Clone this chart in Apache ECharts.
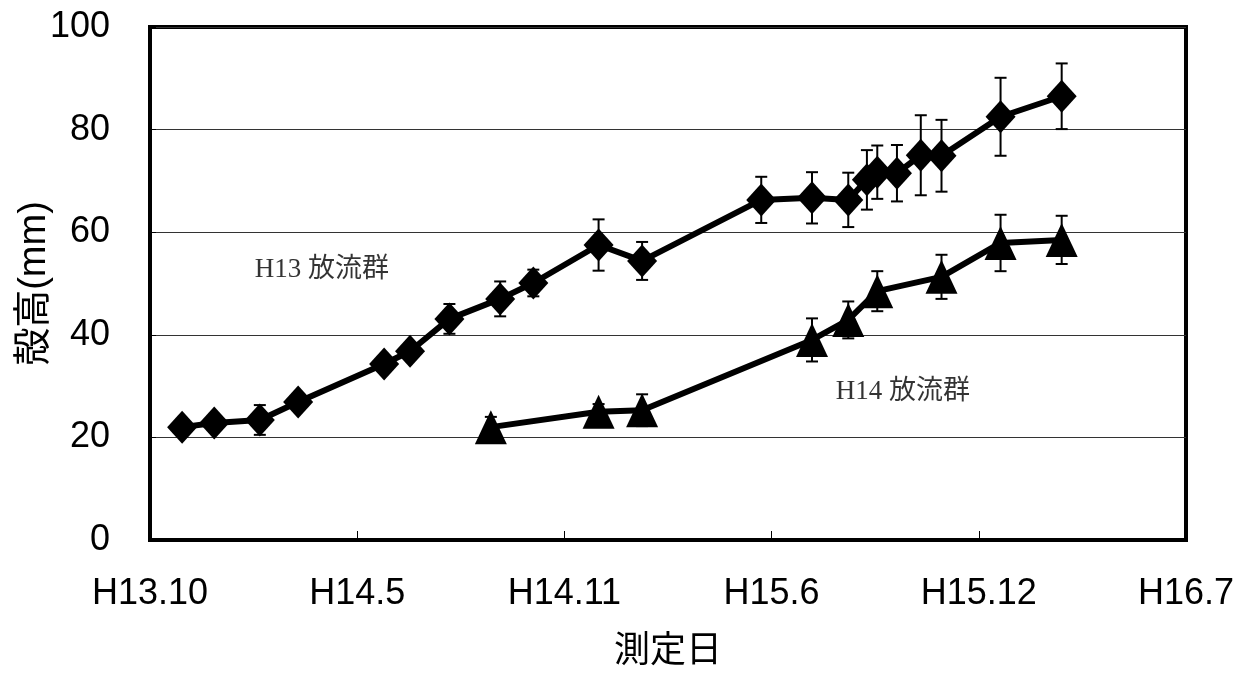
<!DOCTYPE html>
<html>
<head>
<meta charset="utf-8">
<script src="https://cdn.jsdelivr.net/npm/echarts@6/dist/echarts.min.js"></script>
<style>
  html, body { margin: 0; padding: 0; background: #fff; }
  #chart { width: 1244px; height: 675px; }
</style>
</head>
<body>
<div id="chart"></div>
<script>
// x axis: days counted from the first tick (H13.10), one tick every 200 days
const tickLabels = ['H13.10', 'H14.5', 'H14.11', 'H15.6', 'H15.12', 'H16.7'];
const tickStep = 200;

// H13 release group: measurement day, mean shell height (mm), standard deviation
const h13Days = [31, 62, 106, 143, 226, 251, 289, 338, 370, 433, 475, 590, 639, 674, 692, 702, 721, 744, 764, 821, 880];
const h13Mean = [22.0, 22.8, 23.4, 26.9, 34.3, 36.8, 43.1, 47.0, 50.1, 57.5, 54.4, 66.3, 66.7, 66.3, 70.2, 71.7, 71.5, 75.0, 74.9, 82.5, 86.5];
const h13Sd   = [1.0, 1.0, 2.9, 1.5, 1.5, 1.5, 2.9, 3.4, 2.6, 5.0, 3.7, 4.5, 5.0, 5.3, 5.8, 5.2, 5.5, 7.8, 7.0, 7.6, 6.4];

// H14 release group
const h14Days = [329, 433, 475, 639, 674, 702, 764, 821, 880];
const h14Mean = [22.0, 25.0, 25.3, 39.0, 42.9, 48.5, 51.3, 57.9, 58.5];
const h14Sd   = [2.0, 1.5, 3.1, 4.2, 3.6, 3.9, 4.3, 5.5, 4.7];

// group labels placed in data coordinates
const noteText = ['H13 放流群', 'H14 放流群'];
const noteDay  = [101, 662];
const noteVal  = [52.6, 28.8];

const FONT = "'Liberation Sans', Arial, 'Noto Sans CJK JP', sans-serif";
const NOTE_FONT = "'Liberation Serif', 'Noto Sans CJK JP', serif";

function pairs(xs, ys) { return xs.map((x, i) => [x, ys[i]]); }
function errRows(xs, ys, sd) { return xs.map((x, i) => [x, ys[i] - sd[i], ys[i] + sd[i]]); }

function renderErr(params, api) {
  const lo = api.coord([api.value(0), api.value(1)]);
  const hi = api.coord([api.value(0), api.value(2)]);
  const cap = 6;
  const style = { stroke: '#000', lineWidth: 2 };
  return {
    type: 'group',
    children: [
      { type: 'line', shape: { x1: lo[0], y1: lo[1], x2: hi[0], y2: hi[1] }, style },
      { type: 'line', shape: { x1: lo[0] - cap, y1: lo[1], x2: lo[0] + cap, y2: lo[1] }, style },
      { type: 'line', shape: { x1: hi[0] - cap, y1: hi[1], x2: hi[0] + cap, y2: hi[1] }, style }
    ]
  };
}

const chart = echarts.init(document.getElementById('chart'), null, { renderer: 'canvas' });

chart.setOption({
  animation: false,
  backgroundColor: '#fff',
  grid: {
    left: 150, right: 58, top: 27, bottom: 135,
    containLabel: false, outerBoundsMode: 'none',
    show: true, borderColor: '#000', borderWidth: 4, backgroundColor: 'transparent'
  },
  xAxis: {
    type: 'value',
    min: 0, max: tickStep * (tickLabels.length - 1), interval: tickStep,
    name: '測定日', nameLocation: 'middle', nameGap: 94, nameMoveOverlap: false,
    nameTextStyle: { fontFamily: FONT, fontSize: 36, color: '#000' },
    axisLine: { show: true, lineStyle: { color: '#000', width: 4 } },
    axisTick: { show: true, inside: true, length: 9, lineStyle: { color: '#000', width: 1 } },
    axisLabel: {
      margin: 36, fontFamily: FONT, fontSize: 36, color: '#000',
      formatter: v => tickLabels[Math.round(v / tickStep)]
    },
    splitLine: { show: false }
  },
  yAxis: {
    type: 'value', min: 0, max: 100, interval: 20,
    name: '殻高(mm)', nameLocation: 'middle', nameGap: 96, nameRotate: 90, nameMoveOverlap: false,
    nameTextStyle: { fontFamily: FONT, fontSize: 38, color: '#000' },
    axisLine: { show: true, lineStyle: { color: '#000', width: 4 } },
    axisTick: { show: true, inside: true, length: 6, lineStyle: { color: '#000', width: 1 } },
    axisLabel: { margin: 40, fontFamily: FONT, fontSize: 36, color: '#000' },
    splitLine: { show: true, lineStyle: { color: '#333', width: 1 } }
  },
  series: [
    {
      name: 'H13 err', type: 'custom', renderItem: renderErr,
      data: errRows(h13Days, h13Mean, h13Sd), z: 3, silent: true
    },
    {
      name: 'H14 err', type: 'custom', renderItem: renderErr,
      data: errRows(h14Days, h14Mean, h14Sd), z: 3, silent: true
    },
    {
      name: 'H13', type: 'line', data: pairs(h13Days, h13Mean),
      symbol: 'diamond', symbolSize: [30, 33],
      itemStyle: { color: '#000' },
      lineStyle: { color: '#000', width: 6 }, z: 4
    },
    {
      name: 'H14', type: 'line', data: pairs(h14Days, h14Mean),
      symbol: 'triangle', symbolSize: [32, 34],
      itemStyle: { color: '#000' },
      lineStyle: { color: '#000', width: 6 }, z: 4
    },
    {
      name: 'notes', type: 'scatter', symbolSize: 0, silent: true,
      data: noteText.map((t, i) => ({ value: [noteDay[i], noteVal[i]], name: t })),
      label: {
        show: true, position: 'right', distance: 0,
        formatter: p => p.name,
        fontFamily: NOTE_FONT, fontSize: 27, color: '#000'
      },
      z: 5
    }
  ]
});
</script>
</body>
</html>
